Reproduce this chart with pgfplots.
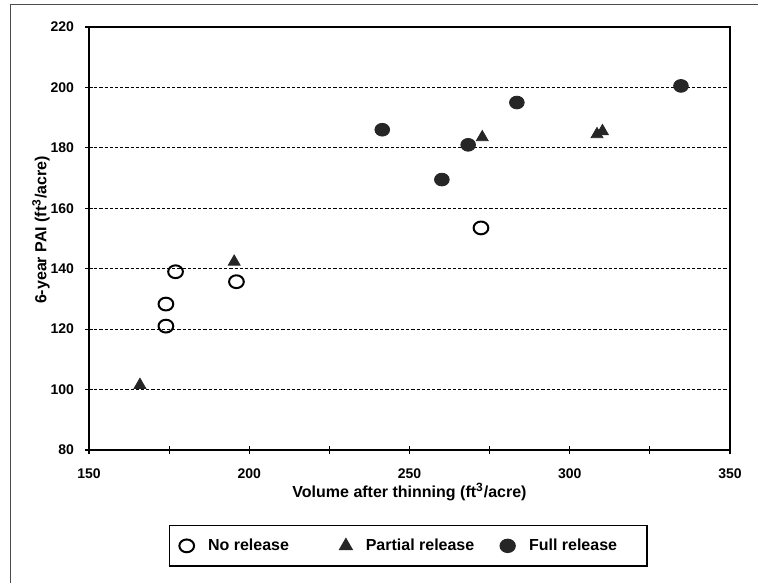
\documentclass[border=0pt]{standalone}
\usepackage{pgfplots}
\pgfplotsset{compat=1.18}
\usepackage{fontspec}
\setmainfont{Liberation Sans}

\pgfplotstableread{
x y
174 121
174 128.3
177 139
196 135.7
272.3 153.5
}\norelease
\pgfplotstableread{
x y
165.9 101.5
195.3 142.3
272.7 183.5
308.5 184.5
310.2 185.5
}\partial
\pgfplotstableread{
x y
241.5 186
260.1 169.5
268.3 181
283.5 195
334.7 200.5
}\full

\begin{document}
\begin{tikzpicture}
\path[use as bounding box] (0pt,0pt) rectangle (379pt,291.5pt);
% scanned page edge
\draw[black!70, line width=0.5pt] (5pt,0pt) -- (5pt,289pt) -- (379pt,289pt);
\begin{axis}[
    at={(44.5pt,66.5pt)}, anchor=south west,
    scale only axis,
    width=320.5pt, height=211.5pt,
    xmin=150, xmax=350, ymin=80, ymax=220,
    xtick={150,200,...,350},
    minor xtick={175,225,...,325},
    ytick={80,100,...,220},
    tick pos=left,
    tick align=center,
    major tick length=4pt,
    minor tick length=4pt,
    every tick/.style={black, line width=0.6pt},
    axis line style={line width=0.8pt},
    ymajorgrids,
    major grid style={black, line width=0.5pt, dash pattern=on 1.6pt off 1pt},
    /pgf/number format/assume math mode=true,
    tick label style={font=\fontsize{7}{8}\selectfont\bfseries},
    xticklabel style={yshift=-4pt},
    yticklabel style={xshift=-2pt},
    label style={font=\fontsize{8}{9.5}\selectfont\bfseries},
    xlabel={Volume after thinning (ft\textsuperscript{3}/acre)},
    ylabel={6-year PAI (ft\textsuperscript{3}/acre)},
    x label style={at={(axis description cs:0.5,-0.099)}, anchor=center},
    y label style={at={(axis description cs:-0.075,0.52)}, anchor=center},
    legend columns=3,
    legend style={at={(0.498,-0.2266)}, anchor=center, draw=black,
        line width=0.8pt, inner xsep=5pt, inner ysep=4.5pt,
        font=\fontsize{8}{9.5}\selectfont\bfseries,
        /tikz/every odd column/.append style={column sep=5pt},
        /tikz/every even column/.append style={column sep=11pt}},
]
\addplot[only marks, mark=o, mark size=3.2pt,
    mark options={black, line width=1pt, xscale=1.15}] table[x=x,y=y] {\norelease};
\addplot[only marks, mark=triangle*, mark size=3.4pt,
    mark options={black!85, fill=black!85}] table[x=x,y=y] {\partial};
\addplot[only marks, mark=*, mark size=3.2pt,
    mark options={black!85, fill=black!85, xscale=1.15}] table[x=x,y=y] {\full};
\legend{No release\kern12.5pt, Partial release, Full release\kern8pt}
\end{axis}
\end{tikzpicture}
\end{document}
